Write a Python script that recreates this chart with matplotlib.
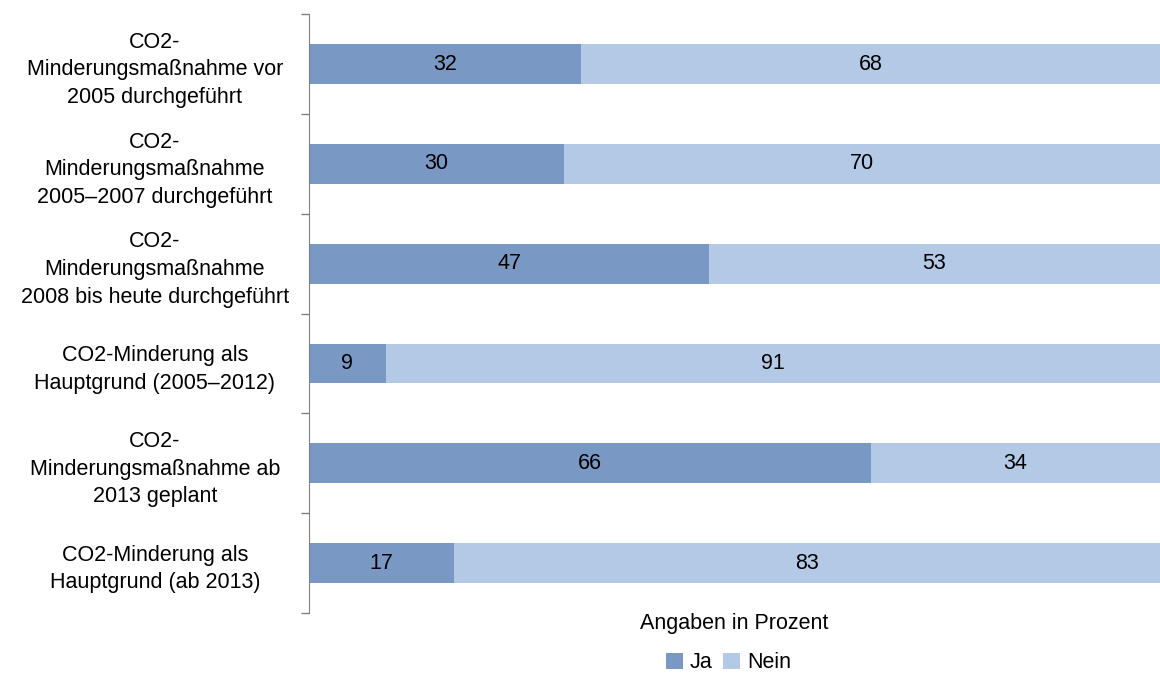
import numpy as np
import matplotlib.pyplot as plt
from matplotlib.ticker import FixedLocator

plt.rcParams['font.family'] = ['Liberation Sans', 'DejaVu Sans']

# categories top to bottom
labels = ['CO2-\nMinderungsmaßnahme vor\n2005 durchgeführt',
          'CO2-\nMinderungsmaßnahme\n2005–2007 durchgeführt',
          'CO2-\nMinderungsmaßnahme\n2008 bis heute durchgeführt',
          'CO2-Minderung als\nHauptgrund (2005–2012)',
          'CO2-\nMinderungsmaßnahme ab\n2013 geplant',
          'CO2-Minderung als\nHauptgrund (ab 2013)']
ja = [32, 30, 47, 9, 66, 17]
nein = [68, 70, 53, 91, 34, 83]

c_ja = '#7a98c4'
c_nein = '#b3c9e6'
fs = 15.5

fig = plt.figure(figsize=(11.6, 6.73), dpi=100)
ax = fig.add_axes([0.2664, 0.089, 0.7336, 0.89])

y = np.arange(len(labels))
ax.barh(y, ja, height=0.4, color=c_ja, label='Ja')
ax.barh(y, nein, left=ja, height=0.4, color=c_nein, label='Nein')
for i in range(len(labels)):
    ax.text(ja[i] / 2, y[i], str(ja[i]), ha='center', va='center', fontsize=fs)
    ax.text(ja[i] + nein[i] / 2, y[i], str(nein[i]), ha='center', va='center', fontsize=fs)

ax.set_xlim(0, 100)
ax.set_ylim(len(labels) - 0.5, -0.5)
ax.set_yticks(y)
ax.set_yticklabels(labels, fontsize=fs, ha='center', linespacing=1.42)
ax.yaxis.set_minor_locator(FixedLocator(np.arange(-0.5, len(labels), 1)))
ax.tick_params(axis='y', which='major', length=0, pad=111)
ax.tick_params(axis='y', which='minor', length=6, color='#808080', width=1)
ax.set_xticks([])
for s in ['top', 'right', 'bottom']:
    ax.spines[s].set_visible(False)
ax.spines['left'].set_color('#808080')

ax.set_xlabel('Angaben in Prozent', fontsize=fs, labelpad=0)
fig.legend(*ax.get_legend_handles_labels(), loc='center', bbox_to_anchor=(0.628, 0.015),
           ncol=2, frameon=False, fontsize=fs, handlelength=0.8, handleheight=0.8,
           handletextpad=0.3, columnspacing=0.5, borderpad=0)

fig.savefig('out.png', dpi=100)
